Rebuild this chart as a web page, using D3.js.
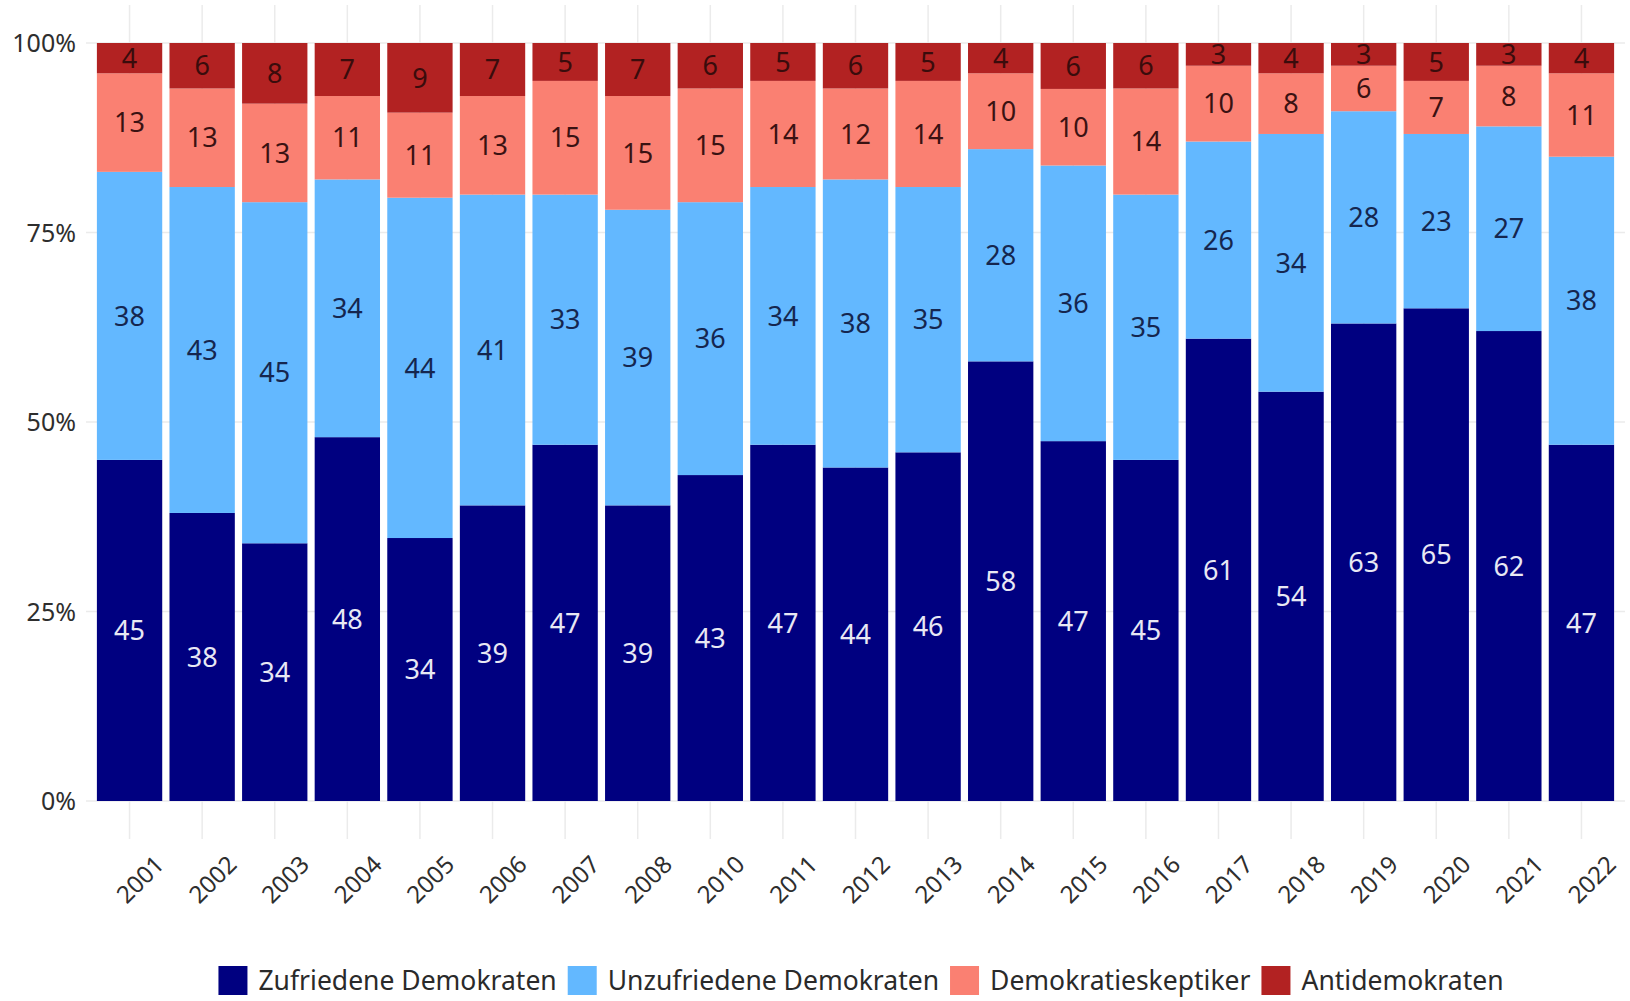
<!DOCTYPE html>
<html>
<head>
<meta charset="utf-8">
<script src="https://cdn.jsdelivr.net/npm/d3@7"></script>
<style>
  html, body { margin: 0; padding: 0; background: #fff; }
  svg text { font-family: "Noto Sans", "Open Sans", sans-serif; }
</style>
</head>
<body>
<svg id="chart" width="1630" height="1001"></svg>
<script>
// data
var years = ["2001","2002","2003","2004","2005","2006","2007","2008","2010","2011",
             "2012","2013","2014","2015","2016","2017","2018","2019","2020","2021","2022"];
var zufrieden   = [45,38,34,48,34,39,47,39,43,47,44,46,58,47,45,61,54,63,65,62,47];
var unzufrieden = [38,43,45,34,44,41,33,39,36,34,38,35,28,36,35,26,34,28,23,27,38];
var skeptiker   = [13,13,13,11,11,13,15,15,15,14,12,14,10,10,14,10,8,6,7,8,11];
var anti        = [4,6,8,7,9,7,5,7,6,5,6,5,4,6,6,3,4,3,5,3,4];
var seriesNames = ["Zufriedene Demokraten","Unzufriedene Demokraten","Demokratieskeptiker","Antidemokraten"];
var yTicks = [0, 0.25, 0.5, 0.75, 1];

var keys = ["zuf","unz","skep","anti"];
var fills = { zuf: "#000080", unz: "#63b8ff", skep: "#fa8072", anti: "#b22222" };
var labelColors = { zuf: "#e8e8f4", unz: "#15264f", skep: "#3a1212", anti: "#3a0c0c" };

var rows = years.map(function (y, i) {
    return { year: y, zuf: zufrieden[i], unz: unzufrieden[i], skep: skeptiker[i], anti: anti[i] };
});

var svg = d3.select("#chart");
var panel = { left: 86, right: 1625, top: 5, bottom: 839 };

var x = d3.scaleBand()
    .domain(years)
    .range([panel.left, panel.right])
    .paddingInner(0.1)
    .paddingOuter(0.15);

var y = d3.scaleLinear().domain([0, 1]).range([801, 43]);

// gridlines
var grid = svg.append("g").attr("class", "grid");
grid.selectAll("line.h")
    .data(yTicks)
    .join("line")
    .attr("class", "h")
    .attr("x1", panel.left).attr("x2", panel.right)
    .attr("y1", function (d) { return y(d); })
    .attr("y2", function (d) { return y(d); })
    .attr("stroke", "#ebebeb").attr("stroke-width", 1.5);
grid.selectAll("line.v")
    .data(years)
    .join("line")
    .attr("class", "v")
    .attr("x1", function (d) { return x(d) + x.bandwidth() / 2; })
    .attr("x2", function (d) { return x(d) + x.bandwidth() / 2; })
    .attr("y1", panel.top).attr("y2", panel.bottom)
    .attr("stroke", "#ebebeb").attr("stroke-width", 1.5);

// stacked bars, normalised to 100%
var stack = d3.stack().keys(keys).offset(d3.stackOffsetExpand);
var layers = stack(rows);

var layer = svg.append("g").selectAll("g")
    .data(layers)
    .join("g")
    .attr("fill", function (d) { return fills[d.key]; });

layer.selectAll("rect")
    .data(function (d) { return d; })
    .join("rect")
    .attr("x", function (d) { return x(d.data.year); })
    .attr("width", x.bandwidth())
    .attr("y", function (d) { return y(d[1]); })
    .attr("height", function (d) { return y(d[0]) - y(d[1]); });

// value labels
var labels = svg.append("g").selectAll("g")
    .data(layers)
    .join("g")
    .attr("fill", function (d) { return labelColors[d.key]; });

labels.selectAll("text")
    .data(function (d) { return d.map(function (p) { return { p: p, key: d.key }; }); })
    .join("text")
    .attr("x", function (d) { return x(d.p.data.year) + x.bandwidth() / 2; })
    .attr("y", function (d) { return y((d.p[0] + d.p[1]) / 2); })
    .attr("dy", "0.36em")
    .attr("text-anchor", "middle")
    .attr("font-size", 27)
    .text(function (d) { return d.p.data[d.key]; });

// y axis labels
svg.append("g").selectAll("text")
    .data(yTicks)
    .join("text")
    .attr("x", 76)
    .attr("y", function (d) { return y(d); })
    .attr("dy", "0.36em")
    .attr("text-anchor", "end")
    .attr("font-size", 25)
    .attr("fill", "#2e2e2e")
    .text(d3.format(".0%"));

// x axis labels, rotated
svg.append("g").selectAll("text")
    .data(years)
    .join("text")
    .attr("transform", function (d) {
        return "translate(" + (x(d) + x.bandwidth() / 2 + 36) + ",866) rotate(-45)";
    })
    .attr("text-anchor", "end")
    .attr("font-size", 24)
    .attr("fill", "#2e2e2e")
    .text(function (d) { return d; });

// legend
var legend = svg.append("g");
var items = legend.selectAll("g")
    .data(seriesNames)
    .join("g");
items.append("rect")
    .attr("width", 29).attr("height", 29)
    .attr("y", 966)
    .attr("fill", function (d, i) { return fills[keys[i]]; });
items.append("text")
    .attr("x", 40)
    .attr("y", 980)
    .attr("dy", "0.36em")
    .attr("font-size", 26.5)
    .attr("fill", "#2a2a2a")
    .text(function (d) { return d; });

var widths = [];
items.select("text").each(function () { widths.push(40 + this.getComputedTextLength()); });
var gap = 11;
var total = d3.sum(widths) + gap * (widths.length - 1);
var cx = 861, pos = cx - total / 2;
items.attr("transform", function (d, i) {
    var t = "translate(" + pos + ",0)";
    pos += widths[i] + gap;
    return t;
});
</script>
</body>
</html>
